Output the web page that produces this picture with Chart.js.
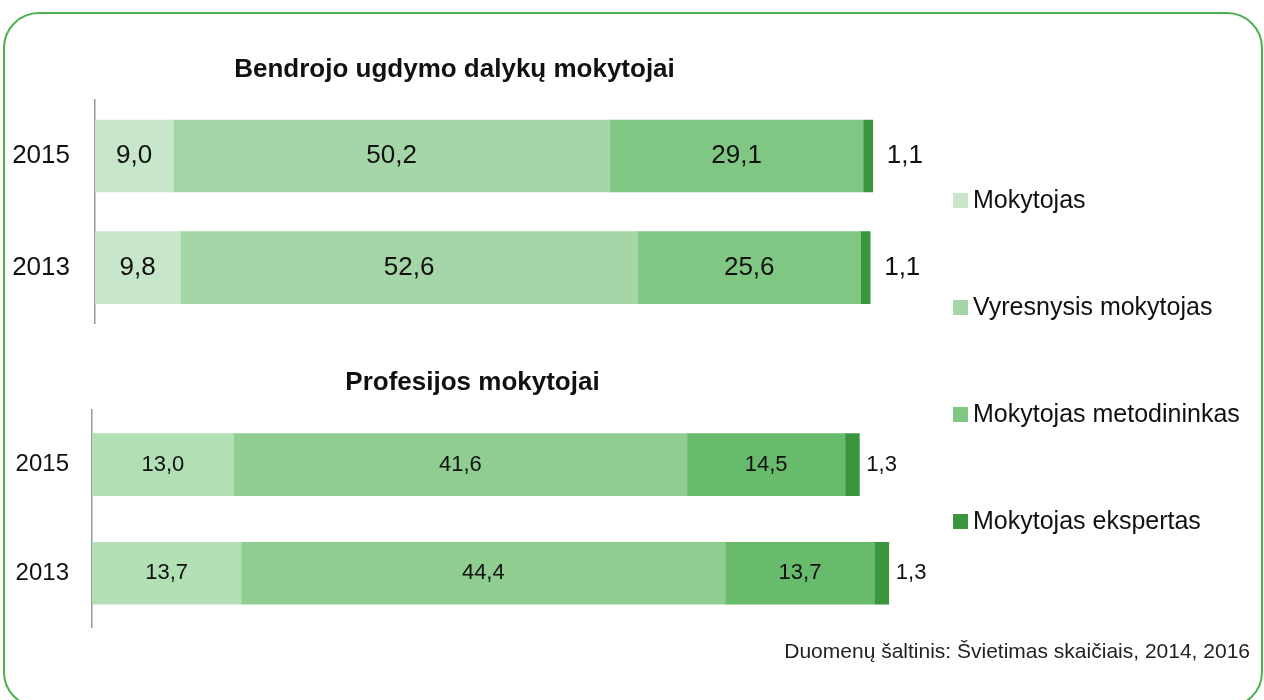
<!DOCTYPE html>
<html>
<head>
<meta charset="utf-8">
<script src="https://cdn.jsdelivr.net/npm/chart.js@4.4.1/dist/chart.umd.min.js"></script>
<style>
  html, body { margin:0; padding:0; width:1264px; height:700px; overflow:hidden; background:#fff; font-family:"Liberation Sans", Arial, sans-serif; }
  #frame { position:absolute; left:3px; top:12px; width:1256px; height:692px; border:2px solid #4cb050; border-radius:36px; }
  canvas { position:absolute; }
  #legend { position:absolute; left:953px; top:0; }
  .li { position:absolute; left:0; white-space:nowrap; font-size:25px; color:#111; height:30px; line-height:30px; }
  .sw { display:inline-block; width:15px; height:15px; margin-right:5px; vertical-align:0px; }
  #source { position:absolute; right:14px; top:638px; font-size:21px; line-height:26px; color:#222; }
</style>
</head>
<body>
<div id="frame"></div>
<canvas id="top" width="1009" height="310" style="left:-30px; top:46px;"></canvas>
<canvas id="bot" width="1065" height="298" style="left:-30px; top:359px;"></canvas>
<div id="legend"></div>
<div id="source">Duomenų šaltinis: Švietimas skaičiais, 2014, 2016</div>
<script>
// ---- data ----
const categories = ['2015', '2013'];
const seriesNames = ['Mokytojas', 'Vyresnysis mokytojas', 'Mokytojas metodininkas', 'Mokytojas ekspertas'];
const titleTop = 'Bendrojo ugdymo dalykų mokytojai';
const titleBottom = 'Profesijos mokytojai';
// Bendrojo ugdymo dalykų mokytojai
const topMokytojas = [9.0, 9.8];
const topVyresnysis = [50.2, 52.6];
const topMetodininkas = [29.1, 25.6];
const topEkspertas = [1.1, 1.1];
// Profesijos mokytojai
const botMokytojas = [13.0, 13.7];
const botVyresnysis = [41.6, 44.4];
const botMetodininkas = [14.5, 13.7];
const botEkspertas = [1.3, 1.3];

const topColors = ['#c8e6c9', '#a5d6a7', '#81c784', '#3a963e'];
const botColors = ['#b3dfb5', '#8fcd91', '#67bb6b', '#3a963e'];
const FONT = '"Liberation Sans", Arial, sans-serif';

const labelPlugin = {
  id: 'segLabels',
  afterDatasetsDraw(chart, args, opts) {
    const ctx = chart.ctx;
    ctx.save();
    ctx.font = opts.size + 'px ' + FONT;
    ctx.fillStyle = '#111';
    ctx.textBaseline = 'middle';
    const n = chart.data.datasets.length;
    chart.data.datasets.forEach((ds, di) => {
      const meta = chart.getDatasetMeta(di);
      meta.data.forEach((el, i) => {
        const txt = ds.data[i].toFixed(1).replace('.', ',');
        if (di === n - 1) {
          ctx.textAlign = 'left';
          ctx.fillText(txt, el.x + opts.outside, el.y);
        } else {
          ctx.textAlign = 'center';
          ctx.fillText(txt, (el.x + el.base) / 2, el.y);
        }
      });
    });
    ctx.restore();
  }
};

function makeChart(id, title, values, colors, cfg) {
  return new Chart(document.getElementById(id), {
    type: 'bar',
    data: {
      labels: categories,
      datasets: values.map((v, k) => ({
        label: seriesNames[k], data: v, backgroundColor: colors[k],
        borderWidth: 0, barThickness: cfg.thick
      }))
    },
    options: {
      indexAxis: 'y',
      responsive: false,
      animation: false,
      devicePixelRatio: 1,
      layout: { padding: { left: 0, right: cfg.padRight, top: 0, bottom: 0 } },
      plugins: {
        legend: { display: false },
        tooltip: { enabled: false },
        title: {
          display: true, text: title, color: '#111',
          font: { family: FONT, size: 26, weight: 'bold' },
          padding: { top: 8, bottom: cfg.titleBottom }
        },
        segLabels: { size: cfg.labelSize, outside: cfg.outside }
      },
      scales: {
        x: { stacked: true, display: false, min: 0, max: cfg.xmax },
        y: {
          stacked: true,
          grid: { display: false },
          border: { display: true, color: '#9a9a9a', width: 1.5 },
          ticks: { color: '#111', padding: cfg.tickPad, font: { family: FONT, size: cfg.catSize } },
          afterFit: s => { s.width = cfg.axisW; }
        }
      }
    },
    plugins: [labelPlugin]
  });
}

makeChart('top', titleTop, [topMokytojas, topVyresnysis, topMetodininkas, topEkspertas], topColors,
  { thick: 72, padRight: 40, xmax: (939 - 95) / 8.7, titleBottom: 15, labelSize: 26, catSize: 26, tickPad: 17, axisW: 125, outside: 14 });
makeChart('bot', titleBottom, [botMokytojas, botVyresnysis, botMetodininkas, botEkspertas], botColors,
  { thick: 62, padRight: 60, xmax: (975 - 92) / 10.9, titleBottom: 12, labelSize: 22, catSize: 24, tickPad: 15, axisW: 122, outside: 7 });

// legend (HTML) built from series arrays
const legend = document.getElementById('legend');
const legendY = [184, 291, 398, 505];
seriesNames.forEach((name, k) => {
  const d = document.createElement('div');
  d.className = 'li';
  d.style.top = legendY[k] + 'px';
  d.innerHTML = '<span class="sw" style="background:' + topColors[k] + '"></span>' + name;
  legend.appendChild(d);
});
</script>
</body>
</html>
